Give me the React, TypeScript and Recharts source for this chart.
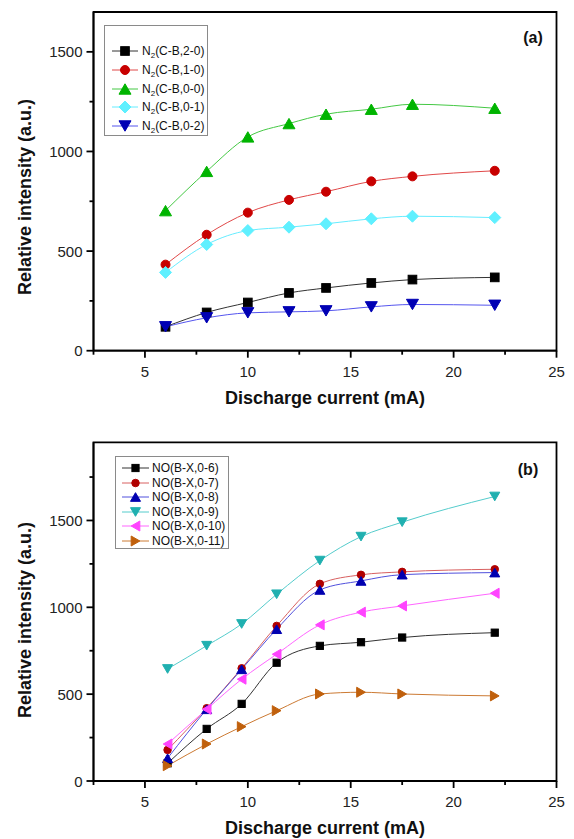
import React from "react";
import { LineChart, Line, XAxis, YAxis, ReferenceArea, Legend } from "recharts";

// panel (a): N2 second positive system
const A_CURRENT = [6, 8, 10, 12, 13.8, 16, 18, 22];
const A_CB20 = [120, 192, 242, 290, 315, 340, 357, 368];
const A_CB10 = [432, 582, 693, 757, 798, 850, 875, 903];
const A_CB00 = [703, 900, 1073, 1140, 1187, 1212, 1237, 1217];
const A_CB01 = [393, 533, 603, 620, 637, 662, 675, 668];
const A_CB02 = [120, 165, 190, 195, 200, 220, 232, 228];

// panel (b): NO gamma system
const B_CURRENT = [6.1, 8, 9.7, 11.4, 13.5, 15.5, 17.5, 22];
const B_BX06 = [102, 300, 444, 681, 778, 799, 826, 854];
const B_BX07 = [179, 419, 649, 893, 1135, 1187, 1204, 1219];
const B_BX08 = [131, 413, 643, 874, 1100, 1152, 1188, 1200];
const B_BX09 = [645, 779, 904, 1075, 1269, 1407, 1490, 1638];
const B_BX010 = [213, 413, 586, 730, 899, 972, 1008, 1081];
const B_BX011 = [88, 213, 313, 405, 501, 511, 501, 490];

const X_TICKS = [2.5, 5, 7.5, 10, 12.5, 15, 17.5, 20, 22.5, 25];
const A_Y_TICKS = [0, 250, 500, 750, 1000, 1250, 1500];
const B_Y_TICKS = [0, 250, 500, 750, 1000, 1250, 1500, 1750];

const FONT = "'Liberation Sans', Arial, sans-serif";

type Shape = "square" | "circle" | "up" | "down" | "diamond" | "left" | "right";

interface Series {
  key: string;
  name: React.ReactNode;
  values: number[];
  shape: Shape;
  fill: string;
  line: string;
}

const sub2 = (
  <span style={{ fontSize: 8, position: "relative", top: 3 }}>2</span>
);

const A_SERIES: Series[] = [
  { key: "cb20", name: <>N{sub2}(C-B,2-0)</>, values: A_CB20, shape: "square", fill: "#000000", line: "#333333" },
  { key: "cb10", name: <>N{sub2}(C-B,1-0)</>, values: A_CB10, shape: "circle", fill: "#c80000", line: "#e04848" },
  { key: "cb00", name: <>N{sub2}(C-B,0-0)</>, values: A_CB00, shape: "up", fill: "#00b400", line: "#44c844" },
  { key: "cb01", name: <>N{sub2}(C-B,0-1)</>, values: A_CB01, shape: "diamond", fill: "#5ff0ff", line: "#66ecff" },
  { key: "cb02", name: <>N{sub2}(C-B,0-2)</>, values: A_CB02, shape: "down", fill: "#0000b4", line: "#5555ee" },
];

const B_SERIES: Series[] = [
  { key: "bx06", name: "NO(B-X,0-6)", values: B_BX06, shape: "square", fill: "#000000", line: "#333333" },
  { key: "bx07", name: "NO(B-X,0-7)", values: B_BX07, shape: "circle", fill: "#b00000", line: "#d86060" },
  { key: "bx08", name: "NO(B-X,0-8)", values: B_BX08, shape: "up", fill: "#0000b0", line: "#5050dd" },
  { key: "bx09", name: "NO(B-X,0-9)", values: B_BX09, shape: "down", fill: "#20b0b0", line: "#55cccc" },
  { key: "bx010", name: "NO(B-X,0-10)", values: B_BX010, shape: "left", fill: "#ff44ff", line: "#ff66ff" },
  { key: "bx011", name: "NO(B-X,0-11)", values: B_BX011, shape: "right", fill: "#c0600c", line: "#cc7a33" },
];

function Marker({ cx, cy, shape, size, fill }: { cx: number; cy: number; shape: Shape; size: number; fill: string }) {
  const h = size / 2;
  const t = size * 0.433;
  const common = { fill, stroke: fill, strokeWidth: 1 };
  switch (shape) {
    case "square":
      return <rect x={cx - h * 0.72} y={cy - h * 0.72} width={size * 0.72} height={size * 0.72} {...common} />;
    case "circle":
      return <circle cx={cx} cy={cy} r={h * 0.75} {...common} />;
    case "diamond":
      return <polygon points={`${cx},${cy - h} ${cx + h},${cy} ${cx},${cy + h} ${cx - h},${cy}`} {...common} />;
    case "up":
      return <polygon points={`${cx},${cy - t} ${cx + h},${cy + t} ${cx - h},${cy + t}`} {...common} />;
    case "down":
      return <polygon points={`${cx},${cy + t} ${cx + h},${cy - t} ${cx - h},${cy - t}`} {...common} />;
    case "left":
      return <polygon points={`${cx - t},${cy} ${cx + t},${cy - h} ${cx + t},${cy + h}`} {...common} />;
    case "right":
      return <polygon points={`${cx + t},${cy} ${cx - t},${cy - h} ${cx - t},${cy + h}`} {...common} />;
  }
  return null;
}

function XTick(props: any) {
  const { x, y, payload } = props;
  const major = payload.value % 5 === 0;
  return (
    <g>
      <line x1={x} x2={x} y1={y} y2={y + (major ? 7 : 4)} stroke="#000" strokeWidth={1.8} />
      {major && (
        <text x={x} y={y + 26} textAnchor="middle" fontSize={15} fontFamily={FONT} fill="#222">
          {payload.value}
        </text>
      )}
    </g>
  );
}

function YTick(props: any) {
  const { x, y, payload } = props;
  const major = payload.value % 500 === 0;
  return (
    <g>
      <line x1={x - (major ? 7 : 4)} x2={x} y1={y} y2={y} stroke="#000" strokeWidth={1.8} />
      {major && (
        <text x={x - 11} y={y + 5.5} textAnchor="end" fontSize={15} fontFamily={FONT} fill="#222">
          {payload.value}
        </text>
      )}
    </g>
  );
}

function LegendBox({ series, width, height, firstRow, rowStep, lineX1, lineX2, markerX, textX, markerSize }: any) {
  return (
    <div
      style={{
        position: "relative",
        width,
        height,
        boxSizing: "border-box",
        border: "1px solid #8a8a8a",
        background: "#fff",
        fontFamily: FONT,
        fontSize: 12,
        color: "#111",
      }}
    >
      {series.map((s: Series, i: number) => (
        <div key={s.key} style={{ position: "absolute", left: 0, top: firstRow + i * rowStep - 8, height: 16, width: width - 2 }}>
          <svg width={lineX2 + 6} height={16} style={{ position: "absolute", left: 0, top: 0 }}>
            <line x1={lineX1} x2={lineX2} y1={8} y2={8} stroke={s.line} strokeWidth={1} />
            <Marker cx={markerX} cy={8} shape={s.shape} size={markerSize} fill={s.fill} />
          </svg>
          <span style={{ position: "absolute", left: textX, top: 0, lineHeight: "16px", whiteSpace: "nowrap" }}>{s.name}</span>
        </div>
      ))}
    </div>
  );
}

function Panel({
  top,
  height,
  marginTop,
  xAxisHeight,
  yMax,
  yTicks,
  xs,
  series,
  markerSize,
  legend,
  tag,
  tagPos,
  yTitleY,
  xTitleY,
}: any) {
  const data = xs.map((x: number, i: number) => {
    const row: any = { current: x };
    series.forEach((s: Series) => (row[s.key] = s.values[i]));
    return row;
  });
  return (
    <div style={{ position: "absolute", left: 0, top, width: 574, height }}>
      <LineChart width={574} height={height} data={data} margin={{ top: marginTop, right: 17.5, bottom: 0, left: 0 }}>
        <ReferenceArea x1={2.5} x2={25} y1={0} y2={yMax} fill="none" fillOpacity={0} stroke="#000" strokeWidth={1.8} />
        <XAxis
          dataKey="current"
          type="number"
          domain={[2.5, 25]}
          allowDataOverflow
          ticks={X_TICKS}
          interval={0}
          height={xAxisHeight}
          tickSize={0}
          tickMargin={0}
          tickLine={false}
          tick={<XTick />}
          axisLine={{ stroke: "#000", strokeWidth: 1.8 }}
        />
        <YAxis
          type="number"
          domain={[0, yMax]}
          allowDataOverflow
          ticks={yTicks}
          interval={0}
          width={93.5}
          tickSize={0}
          tickMargin={0}
          tickLine={false}
          tick={<YTick />}
          axisLine={{ stroke: "#000", strokeWidth: 1.8 }}
        />
        {series.map((s: Series) => (
          <Line
            key={s.key}
            dataKey={s.key}
            type="monotone"
            stroke={s.line}
            strokeWidth={1}
            isAnimationActive={false}
            activeDot={false}
            dot={(p: any) => (
              <Marker key={`${s.key}-${p.index}`} cx={p.cx} cy={p.cy} shape={s.shape} size={markerSize} fill={s.fill} />
            )}
          />
        ))}
        <Legend
          layout="vertical"
          align="center"
          verticalAlign="middle"
          wrapperStyle={{ left: legend.left, top: legend.top, width: legend.width, height: legend.height }}
          content={() => <LegendBox series={series} markerSize={markerSize} {...legend} />}
        />
      </LineChart>
      <div
        style={{
          position: "absolute",
          left: tagPos[0] - 20,
          top: tagPos[1] - 10,
          width: 40,
          textAlign: "center",
          fontFamily: FONT,
          fontWeight: "bold",
          fontSize: 16,
          lineHeight: "20px",
          color: "#111",
        }}
      >
        {tag}
      </div>
      <div
        style={{
          position: "absolute",
          left: 25 - 150,
          top: yTitleY - 12,
          width: 300,
          height: 24,
          lineHeight: "24px",
          textAlign: "center",
          transform: "rotate(-90deg)",
          fontFamily: FONT,
          fontWeight: "bold",
          fontSize: 18,
          color: "#111",
          whiteSpace: "nowrap",
        }}
      >
        Relative intensity (a.u.)
      </div>
      <div
        style={{
          position: "absolute",
          left: 325 - 150,
          top: xTitleY - 12,
          width: 300,
          height: 24,
          lineHeight: "24px",
          textAlign: "center",
          fontFamily: FONT,
          fontWeight: "bold",
          fontSize: 18,
          color: "#111",
          whiteSpace: "nowrap",
        }}
      >
        Discharge current (mA)
      </div>
    </div>
  );
}

export default function App() {
  return (
    <div style={{ position: "absolute", left: 0, top: 0, width: 574, height: 839, background: "#fff", overflow: "hidden" }}>
      <Panel
        top={0}
        height={420}
        marginTop={12}
        xAxisHeight={69.3}
        yMax={1700}
        yTicks={A_Y_TICKS}
        xs={A_CURRENT}
        series={A_SERIES}
        markerSize={12}
        legend={{ left: 104, top: 25, width: 104, height: 111, firstRow: 25, rowStep: 18.8, lineX1: 7, lineX2: 33, markerX: 20, textX: 37 }}
        tag="(a)"
        tagPos={[533, 38]}
        yTitleY={197}
        xTitleY={398}
      />
      <Panel
        top={420}
        height={419}
        marginTop={22.3}
        xAxisHeight={58}
        yMax={1950}
        yTicks={B_Y_TICKS}
        xs={B_CURRENT}
        series={B_SERIES}
        markerSize={10}
        legend={{ left: 115, top: 36, width: 114, height: 93, firstRow: 11, rowStep: 14.6, lineX1: 6, lineX2: 33, markerX: 19.5, textX: 36 }}
        tag="(b)"
        tagPos={[528, 50]}
        yTitleY={200}
        xTitleY={408}
      />
    </div>
  );
}
